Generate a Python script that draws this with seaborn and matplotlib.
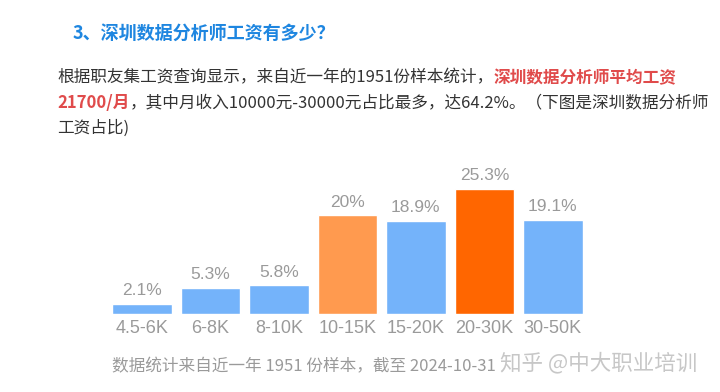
import matplotlib
matplotlib.use("Agg")
import matplotlib.pyplot as plt
import seaborn as sns
import pandas as pd

# ---- data ----
categories = ["4.5-6K", "6-8K", "8-10K", "10-15K", "15-20K", "20-30K", "30-50K"]
shares = [2.1, 5.3, 5.8, 20, 18.9, 25.3, 19.1]
bar_colors = ["#74B3FA", "#74B3FA", "#74B3FA", "#FF9A4F", "#74B3FA", "#FF6600", "#74B3FA"]

title_text = "3、深圳数据分析师工资有多少？"
para_line1_black = "根据职友集工资查询显示，来自近一年的1951份样本统计，"
para_line1_red = "深圳数据分析师平均工资"
para_line2_red = "21700/月"
para_line2_black = "，其中月收入10000元-30000元占比最多，达64.2%。（下图是深圳数据分析师"
para_line3_black = "工资占比)"
footer_text = "数据统计来自近一年 1951 份样本，截至 2024-10-31"
watermark_text = "知乎 @中大职业培训"

sns.set_theme(style="white")
plt.rcParams["font.family"] = ["Noto Sans CJK SC", "DejaVu Sans"]

W, H = 720, 392
fig = plt.figure(figsize=(W / 100, H / 100), dpi=100)
fig.patch.set_facecolor("white")

# axes placement (pixels)
left_px, right_px = 107.8, 587.0
base_px, top_px = 314.0, 314.0 - 30 * 4.94
ax = fig.add_axes([left_px / W, 1 - base_px / H, (right_px - left_px) / W, (base_px - top_px) / H])

df = pd.DataFrame({"cat": categories, "val": shares})
sns.barplot(data=df, x="cat", y="val", hue="cat", palette=bar_colors, legend=False,
            width=0.87, saturation=1, ax=ax)
ax.set_xlim(-0.5, len(categories) - 0.5)
ax.set_ylim(0, 30)
for s in ax.spines.values():
    s.set_visible(False)
ax.set_yticks([])
ax.set_xlabel("")
ax.set_ylabel("")
ax.set_facecolor("none")
ax.tick_params(axis="x", length=0, pad=4, labelcolor="#9A9A9A")
for lab in ax.get_xticklabels():
    lab.set_fontfamily(["Liberation Sans", "DejaVu Sans"])
    lab.set_fontsize(13)

for cont in ax.containers:
    labels = [f"{v:g}%" for v in cont.datavalues]
    texts = ax.bar_label(cont, labels=labels, padding=4, color="#9A9A9A", fontsize=12.5)
    for t in texts:
        t.set_fontfamily(["Liberation Sans", "DejaVu Sans"])

# ---- text ----
def px(x, y):
    return x / W, 1 - y / H

fig.text(*px(73, 33), title_text, color="#1E86E0", fontsize=13, fontweight="bold",
         va="center", ha="left")

renderer = fig.canvas.get_renderer()

def run(x, y, parts, fs=12.0):
    for txt, col, wt in parts:
        t = fig.text(*px(x, y), txt, color=col, fontsize=fs, fontweight=wt,
                     va="center", ha="left")
        bb = t.get_window_extent(renderer=renderer)
        x = x + bb.width

run(57, 78, [(para_line1_black, "#333333", "normal"), (para_line1_red, "#E04B4B", "bold")])
run(57, 103, [(para_line2_red, "#E04B4B", "bold"), (para_line2_black, "#333333", "normal")])
run(57, 128, [(para_line3_black, "#333333", "normal")])

fig.text(*px(112, 367), footer_text, color="#9A9A9A", fontsize=12, va="center", ha="left")
fig.text(*px(500, 363), watermark_text, color="#BDBDBD", fontsize=15.5, va="center",
         ha="left", alpha=0.85)

fig.savefig("out.png", dpi=100, facecolor="white")
